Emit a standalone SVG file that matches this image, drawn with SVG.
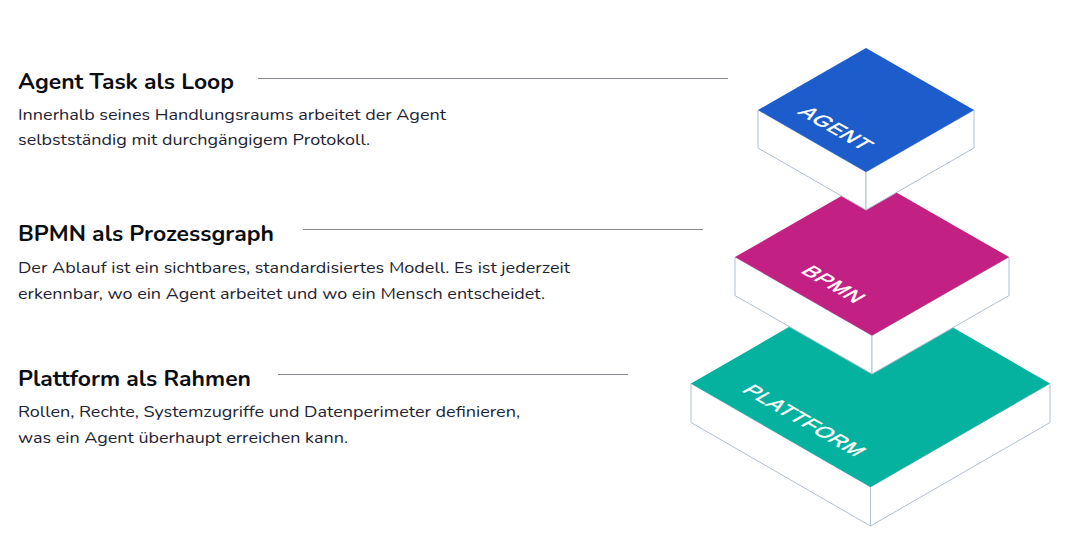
<svg xmlns="http://www.w3.org/2000/svg" width="1083" height="553" viewBox="0 0 1083 553">
<style>
.title{font-family:"Nunito","Noto Sans","Liberation Sans",sans-serif;font-weight:700;font-size:22px;fill:#0c0d12}
.body{font-family:"Nunito","Noto Sans","Liberation Sans",sans-serif;font-weight:400;font-size:16.5px;fill:#1d2333}
.lead{stroke:#868b90;stroke-width:1.2;fill:none}
.side{fill:#ffffff;stroke:#b0bfcf;stroke-width:1;stroke-linejoin:round}
.lbl{font-family:"Liberation Sans",Arial,sans-serif;font-size:21px;fill:#ffffff;stroke:#ffffff;stroke-width:0.5;letter-spacing:0.8px}
</style>
<rect width="1083" height="553" fill="#ffffff"/>
<g id="connectors">
<line class="lead" x1="258" y1="78.5" x2="728" y2="78.5"/>
<line class="lead" x1="303" y1="229.5" x2="703" y2="229.5"/>
<line class="lead" x1="278" y1="374.5" x2="628" y2="374.5"/>
</g>
<g id="text-agent">
<text class="title" x="18" y="89" textLength="216" lengthAdjust="spacingAndGlyphs">Agent Task als Loop</text>
<text class="body" x="18" y="120" textLength="428" lengthAdjust="spacingAndGlyphs">Innerhalb seines Handlungsraums arbeitet der Agent</text>
<text class="body" x="18" y="145" textLength="352" lengthAdjust="spacingAndGlyphs">selbstständig mit durchgängigem Protokoll.</text>
</g>
<g id="text-bpmn">
<text class="title" x="18" y="241" textLength="256" lengthAdjust="spacingAndGlyphs">BPMN als Prozessgraph</text>
<text class="body" x="18" y="273" textLength="552" lengthAdjust="spacingAndGlyphs">Der Ablauf ist ein sichtbares, standardisiertes Modell. Es ist jederzeit</text>
<text class="body" x="18" y="299" textLength="527" lengthAdjust="spacingAndGlyphs">erkennbar, wo ein Agent arbeitet und wo ein Mensch entscheidet.</text>
</g>
<g id="text-plattform">
<text class="title" x="18" y="386" textLength="233" lengthAdjust="spacingAndGlyphs">Plattform als Rahmen</text>
<text class="body" x="18" y="417" textLength="502" lengthAdjust="spacingAndGlyphs">Rollen, Rechte, Systemzugriffe und Datenperimeter definieren,</text>
<text class="body" x="18" y="443" textLength="330" lengthAdjust="spacingAndGlyphs">was ein Agent überhaupt erreichen kann.</text>
</g>
<g id="layer-plattform">
<polygon class="side" points="691,383.5 870.5,487 870.5,526 691,422.5"/>
<polygon class="side" points="870.5,487 1050,383.5 1050,422.5 870.5,526"/>
<polygon fill="#05b19f" points="691,383.5 870.5,280 1050,383.5 870.5,487"/>
<text class="lbl" transform="matrix(0.866 0.5 -0.866 0.5 741 391)">PLATTFORM</text>
</g>
<g id="layer-bpmn">
<polygon class="side" points="735,257 872,335.5 872,374 735,295.5"/>
<polygon class="side" points="872,335.5 1009,257 1009,295.5 872,374"/>
<polygon fill="#c32083" points="735,257 872,178.5 1009,257 872,335.5"/>
<text class="lbl" transform="matrix(0.866 0.5 -0.866 0.5 800 272)">BPMN</text>
</g>
<g id="layer-agent">
<polygon class="side" points="758,110 866,172 866,210 758,148"/>
<polygon class="side" points="866,172 974,110 974,148 866,210"/>
<polygon fill="#1c5dcb" points="758,110 866,48 974,110 866,172"/>
<text class="lbl" transform="matrix(0.866 0.5 -0.866 0.5 797 113)">AGENT</text>
</g>
</svg>
